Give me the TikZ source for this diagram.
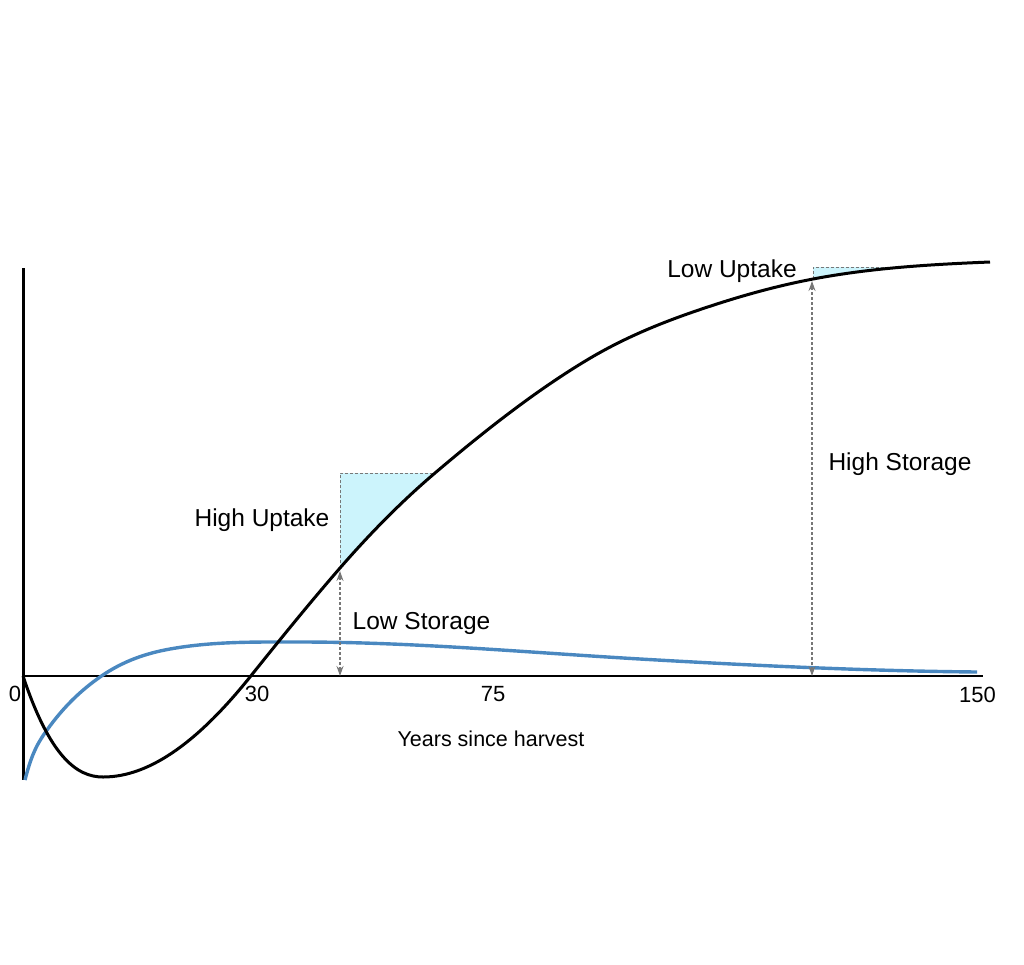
\documentclass[tikz,border=0pt]{standalone}
\usepackage{fontspec}
\setmainfont{Liberation Sans}
\usetikzlibrary{arrows.meta}

\definecolor{fluxblue}{HTML}{4A88C0}
\definecolor{upfill}{HTML}{CCF4FC}
\definecolor{guidegray}{HTML}{777777}

\newcommand\stockcurve{(23,676) .. controls (49.7,756) and (76.3,777) .. (103,777)
	.. controls (152,777) and (201,738) .. (250,677)
	.. controls (280,639.5) and (310,602.5) .. (340,568)
	.. controls (371.7,531.6) and (403.3,499.9) .. (435,473)
	.. controls (485.7,429.9) and (536.3,390.4) .. (587,360)
	.. controls (631.3,333.4) and (675.7,317.2) .. (720,303)
	.. controls (751,293.1) and (782,284.9) .. (813,279)
	.. controls (872,267.8) and (931,264.4) .. (990,262)}
\newcommand\fluxcurve{(25,780) .. controls (32.3,750.7) and (39.7,740.3) .. (47,730)
	.. controls (64.7,705.3) and (82.3,689.4) .. (100,677)
	.. controls (123.3,660.7) and (146.7,653.2) .. (170,649)
	.. controls (213.3,641.2) and (256.7,642) .. (300,642)
	.. controls (413.3,642) and (526.7,652.4) .. (640,659)
	.. controls (752.3,665.5) and (864.7,670.9) .. (977,672)}

\begin{document}
\begin{tikzpicture}[
		x=1pt, y=-1pt,
		axis/.style={line width=2.6pt},
		stock/.style={line width=3pt, line join=round},
		flux/.style={line width=3.4pt, fluxblue},
		span/.style={{Stealth[length=10pt,width=7pt]}-{Stealth[length=10pt,width=7pt]}, guidegray, line width=1.2pt, dash pattern=on 3pt off 2pt},
		guide/.style={guidegray, line width=0.9pt, dash pattern=on 3pt off 2pt},
		label/.style={anchor=base, inner sep=0pt, font=\fontsize{24.5}{29}\selectfont},
		tick/.style={anchor=base, inner sep=0pt, font=\fontsize{22}{26}\selectfont},
	]
		\useasboundingbox (0,0) rectangle (1024,964);
		
		\coordinate (ytop) at (23.5,268);
		\coordinate (ybot) at (23.5,780);
		\coordinate (xleft) at (22,676);
		\coordinate (xright) at (983,676);
		
		% uptake triangles
		\begin{scope}
			\clip (340,473) rectangle (435,700);
			\fill[upfill] \stockcurve -- (990,0) -- (23,0) -- cycle;
		\end{scope}
		\begin{scope}
			\clip (813,267) rectangle (908,300);
			\fill[upfill] \stockcurve -- (990,0) -- (23,0) -- cycle;
		\end{scope}
		\coordinate (hu-foot) at (340,568);
		\coordinate (hu-corner) at (340,473);
		\coordinate (hu-tip) at (435,473);
		\coordinate (lu-foot) at (813,279);
		\coordinate (lu-corner) at (813,267);
		\coordinate (lu-tip) at (908,267);
		\draw[guide] (hu-foot) -- (hu-corner) -- (hu-tip);
		\draw[guide] (lu-foot) -- (lu-corner) -- (lu-tip);
		
		% axes
		\draw[axis] (ytop) -- (ybot);
		\draw[axis] (xleft) -- (xright);
		
		% curves
		\draw[flux] \fluxcurve;
		\draw[stock] \stockcurve;
		
		% storage spans
		\coordinate (ls-base) at (340,676);
		\coordinate (ls-top) at (340,571);
		\coordinate (hs-base) at (812,676);
		\coordinate (hs-top) at (812,281);
		\draw[span] (ls-base) -- (ls-top);
		\draw[span] (hs-base) -- (hs-top);
		
		% labels
		\node[label] (hu) at (262,526) {High Uptake};
		\node[label] (ls) at (421.5,629) {Low Storage};
		\node[label] (hs) at (900,470) {High Storage};
		\node[label] (lu) at (732,277) {Low Uptake};
		
		\node[tick] (t0) at (15,701) {0};
		\node[tick] (t30) at (257,701) {30};
		\node[tick] (t75) at (493,701) {75};
		\node[tick] (t150) at (977.5,702) {150};
		\node[tick, font=\fontsize{21.5}{25}\selectfont] (xlab) at (491,746) {Years since harvest};
	\end{tikzpicture}
\end{document}
